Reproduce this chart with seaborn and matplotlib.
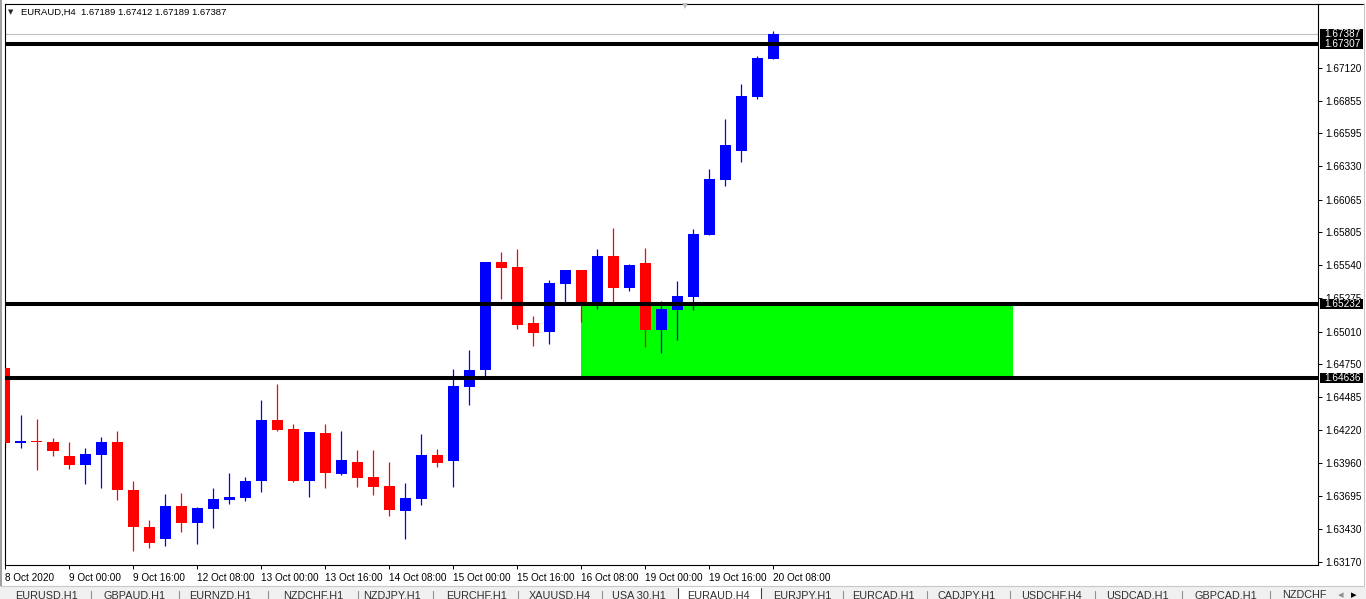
import matplotlib
matplotlib.use("Agg")
import matplotlib.pyplot as plt
import matplotlib.transforms as mtransforms
from matplotlib.patches import Rectangle
from matplotlib.lines import Line2D
import seaborn as sns
import numpy as np
import pandas as pd

sns.set_theme(style="white")
plt.rcParams['font.family'] = ['Liberation Sans', 'DejaVu Sans']

# ---------------- data ----------------
opens = [1.64716, 1.64118, 1.64132, 1.64124, 1.64012, 1.63942, 1.64022, 1.64124, 1.63740, 1.63444,
         1.63350, 1.63612, 1.63478, 1.63590, 1.63662, 1.63678, 1.63814, 1.64300, 1.64228, 1.63812,
         1.64196, 1.63868, 1.63964, 1.63844, 1.63772, 1.63572, 1.63668, 1.64020, 1.63974, 1.64564,
         1.64700, 1.65564, 1.65524, 1.65076, 1.65004, 1.65388, 1.65500, 1.65236, 1.65612, 1.65356,
         1.65556, 1.65020, 1.65180, 1.65284, 1.65780, 1.66220, 1.66452, 1.66884, 1.67189]
highs = [1.64732, 1.64340, 1.64308, 1.64156, 1.64124, 1.64076, 1.64164, 1.64212, 1.63812, 1.63500,
         1.63708, 1.63716, 1.63604, 1.63756, 1.63876, 1.63844, 1.64460, 1.64588, 1.64268, 1.64204,
         1.64268, 1.64212, 1.64060, 1.64060, 1.63964, 1.63796, 1.64188, 1.64068, 1.64708, 1.64860,
         1.65564, 1.65644, 1.65668, 1.65132, 1.65420, 1.65500, 1.65500, 1.65668, 1.65836, 1.65548,
         1.65676, 1.65252, 1.65412, 1.65828, 1.66308, 1.66708, 1.66988, 1.67212, 1.67412]
lows = [1.64078, 1.64078, 1.63902, 1.64014, 1.63910, 1.63790, 1.63758, 1.63662, 1.63254, 1.63278,
        1.63294, 1.63406, 1.63310, 1.63438, 1.63630, 1.63654, 1.63726, 1.64212, 1.63804, 1.63686,
        1.63758, 1.63860, 1.63766, 1.63702, 1.63534, 1.63350, 1.63620, 1.63924, 1.63764, 1.64420,
        1.64652, 1.65268, 1.65028, 1.64892, 1.64908, 1.65244, 1.65084, 1.65188, 1.65244, 1.65332,
        1.64884, 1.64836, 1.64940, 1.65180, 1.65780, 1.66172, 1.66364, 1.66868, 1.67189]
closes = [1.64118, 1.64132, 1.64126, 1.64054, 1.63942, 1.64028, 1.64124, 1.63742, 1.63446, 1.63318,
          1.63612, 1.63478, 1.63596, 1.63668, 1.63684, 1.63812, 1.64300, 1.64220, 1.63812, 1.64204,
          1.63876, 1.63980, 1.63836, 1.63764, 1.63580, 1.63676, 1.64020, 1.63956, 1.64572, 1.64700,
          1.65564, 1.65516, 1.65060, 1.64996, 1.65396, 1.65500, 1.65244, 1.65612, 1.65356, 1.65540,
          1.65020, 1.65188, 1.65292, 1.65788, 1.66228, 1.66500, 1.66892, 1.67196, 1.67387]

x_tick_pos = [0, 4, 8, 12, 16, 20, 24, 28, 32, 36, 40, 44, 48]
x_tick_labels = ["8 Oct 2020", "9 Oct 00:00", "9 Oct 16:00", "12 Oct 08:00", "13 Oct 00:00",
                 "13 Oct 16:00", "14 Oct 08:00", "15 Oct 00:00", "15 Oct 16:00", "16 Oct 08:00",
                 "19 Oct 00:00", "19 Oct 16:00", "20 Oct 08:00"]
y_ticks = [1.67120, 1.66855, 1.66595, 1.66330, 1.66065, 1.65805, 1.65540, 1.65275,
           1.65010, 1.64750, 1.64485, 1.64220, 1.63960, 1.63695, 1.63430, 1.63170]
level_prices = [1.67307, 1.65232, 1.64636]
bid_price = 1.67387
zone_low, zone_high = 1.64636, 1.65232
zone_start, zone_end = 36, 63
title_text = "EURAUD,H4  1.67189 1.67412 1.67189 1.67387"
tab_names = ["EURUSD,H1", "GBPAUD,H1", "EURNZD,H1", "NZDCHF,H1", "NZDJPY,H1", "EURCHF,H1",
             "XAUUSD,H4", "USA 30,H1", "EURAUD,H4", "EURJPY,H1", "EURCAD,H1", "CADJPY,H1",
             "USDCHF,H4", "USDCAD,H1", "GBPCAD,H1"]
tab_centers = [46, 135, 220, 313, 392, 477, 560, 639, 718, 802, 883, 967, 1051, 1137, 1226]
tab_separators = [91, 179, 268, 358, 433, 518, 602, 843, 927, 1010, 1095, 1182, 1270]

# ---------------- figure ----------------
W, H = 1366, 599
fig = plt.figure(figsize=(W / 100, H / 100), dpi=100)
fig.patch.set_facecolor("white")

ax_left, ax_right, ax_top, ax_bottom = 4.5, 1318, 3.5, 565
ax = fig.add_axes([ax_left / W, 1 - ax_bottom / H, (ax_right - ax_left) / W, (ax_bottom - ax_top) / H])
ax.set_facecolor("white")

df = pd.DataFrame({"open": opens, "high": highs, "low": lows, "close": closes})
df["idx"] = np.arange(len(df))
df["bull"] = df["close"] > df["open"]
df["color"] = np.where(df["bull"], "#0000ff", "#ff0000")
df["body_lo"] = df[["open", "close"]].min(axis=1)
df["body_h"] = (df["close"] - df["open"]).abs().clip(lower=0.00009)

# demand zone
ax.add_patch(Rectangle((zone_start, zone_low), zone_end - zone_start, zone_high - zone_low,
                       facecolor="#00ff00", edgecolor="none", zorder=1))
# bid line
ax.axhline(bid_price, color="#c0c0c0", lw=0.8, zorder=1.5)

# wicks and bodies
ax.vlines(df["idx"], df["low"], df["high"], colors=df["color"], lw=0.9, zorder=2)
ax.bar(df["idx"], df["body_h"], bottom=df["body_lo"], width=0.6875, color=df["color"],
       linewidth=0, zorder=3)

# horizontal levels
for p in level_prices:
    ax.axhline(p, color="black", lw=2.9, zorder=4)

ax.set_xlim(-0.03, 82.03)
ax.set_ylim(1.63144, 1.67632)

# axes styling
for s in ["left", "right", "top", "bottom"]:
    ax.spines[s].set_visible(True)
    ax.spines[s].set_color("black")
    ax.spines[s].set_linewidth(0.8)

ax.yaxis.tick_right()
ax.set_yticks(y_ticks)
ax.set_yticklabels([f"{v:.5f}" for v in y_ticks])
ax.tick_params(axis="y", which="major", right=True, left=False, length=3, width=0.7,
               direction="out", pad=2, labelsize=7.2, colors="black")
ax.set_xticks(x_tick_pos)
ax.set_xticklabels(x_tick_labels)
for lbl in ax.get_xticklabels():
    lbl.set_ha("left")
ax.tick_params(axis="x", which="major", bottom=True, top=False, length=3, width=0.7,
               direction="out", pad=3, labelsize=7.2, colors="black")
ax.grid(False)

# price boxes on the right scale
trans = mtransforms.blended_transform_factory(fig.transFigure, ax.transData)
for p in [bid_price] + level_prices:
    fig.add_artist(Rectangle((1319.5 / W, p - 0.0004), 43 / W, 0.0008, transform=trans,
                             facecolor="black", edgecolor="none", zorder=5))
    fig.text(1324 / W, p, f"{p:.5f}", transform=trans, color="white", fontsize=7.2,
             va="center", ha="left", zorder=6)

# title
fig.text(8 / W, 1 - 12 / H, "▼", fontsize=5, family="DejaVu Sans", va="center", ha="left")
fig.text(21 / W, 1 - 12 / H, title_text, fontsize=6.8, va="center", ha="left", color="black")
# shift marker at top
fig.add_artist(Line2D([685 / W], [1 - 6 / H], marker="v", markersize=5, color="#c0c0c0",
                      markeredgewidth=0))

# window frame
fig.add_artist(Line2D([ax_right / W, 1363 / W], [1 - 3.5 / H, 1 - 3.5 / H], color="black", lw=0.8))
fig.add_artist(Line2D([1363.5 / W, 1363.5 / W], [1 - 3 / H, 1 - 586 / H], color="#c8c8c8", lw=0.8))
fig.add_artist(Line2D([0, 1364 / W], [1 - 586 / H, 1 - 586 / H], color="#c8c8c8", lw=0.8))
fig.add_artist(Rectangle((0, 1 - 586 / H), 2 / W, 586 / H, facecolor="#a0a0a0", edgecolor="none"))

# tab bar (text is cut by the bottom edge, as in the reference)
fig.add_artist(Rectangle((0, 0), 1, 12.5 / H, facecolor="#f0f0f0", edgecolor="none", zorder=1))
fig.add_artist(Rectangle((678 / W, 0), 83 / W, 12.5 / H, facecolor="white", edgecolor="none", zorder=2))
for xx in [678, 761]:
    fig.add_artist(Line2D([xx / W, xx / W], [0, 11 / H], color="#404040", lw=0.8, zorder=3))
for xx in tab_separators:
    fig.add_artist(Line2D([xx / W, xx / W], [0, 8 / H], color="#909090", lw=0.8, zorder=3))
tab_y = 1 - 590 / H
for name, cx in zip(tab_names, tab_centers):
    fig.text(cx / W, tab_y, name, fontsize=7.8, ha="center", va="top", color="#303030", zorder=4)
fig.text(1282 / W, tab_y, "NZDCHF", fontsize=7.8, ha="left", va="top", color="#303030", zorder=4)
fig.text(1338 / W, tab_y, "◂", fontsize=8, ha="left", va="top", color="#909090",
         family="DejaVu Sans", zorder=4)
fig.text(1351 / W, tab_y, "▸", fontsize=8, ha="left", va="top", color="#000000",
         family="DejaVu Sans", zorder=4)

fig.savefig("out.png", dpi=100, facecolor="white")
